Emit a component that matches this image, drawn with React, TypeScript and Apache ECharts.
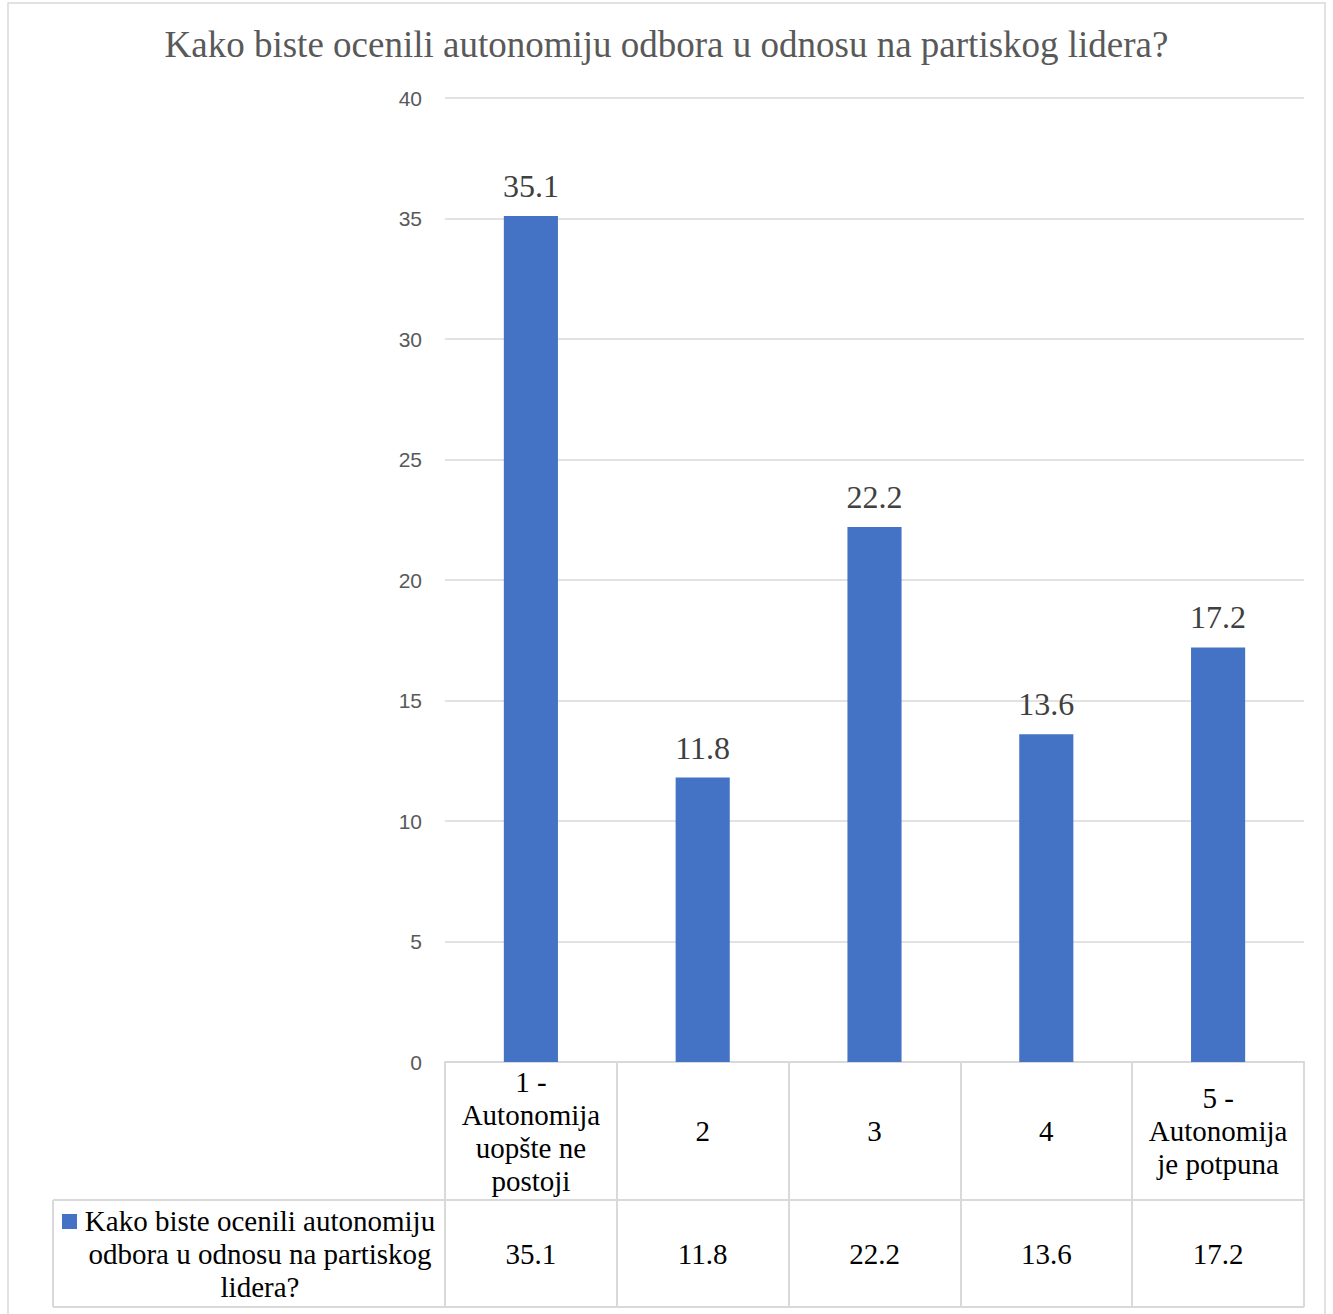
import React, { useEffect, useRef } from "react";
import * as echarts from "echarts";

const TITLE = "Kako biste ocenili autonomiju odbora u odnosu na partiskog lidera?";
const SERIES_NAME = "Kako biste ocenili autonomiju odbora u odnosu na partiskog lidera?";
const LEGEND_LINES = ["Kako biste ocenili autonomiju", "odbora u odnosu na partiskog", "lidera?"];
const categories = ["1 -\nAutonomija\nuopšte ne\npostoji", "2", "3", "4", "5 -\nAutonomija\nje potpuna"];
const values = [35.1, 11.8, 22.2, 13.6, 17.2];
const yTicks = { min: 0, max: 40, interval: 5 };

const W = 1333;
const H = 1314;
const GRID_LEFT = 445;
const GRID_RIGHT = 29;
const GRID_TOP = 98;
const GRID_BOTTOM = 252;
const ROW1 = 138;
const ROW2 = 107;
const LEGEND_LEFT = 53;
const BORDER = "#d9d9d9";
const SERIF = "'Liberation Serif', 'Times New Roman', serif";
const SANS = "'Liberation Sans', Arial, sans-serif";

export default function App() {
  const ref = useRef<HTMLDivElement>(null);
  useEffect(() => {
    if (!ref.current) return;
    const chart = echarts.init(ref.current, null, { renderer: "svg" });
    const axisY = H - GRID_BOTTOM;
    const row2Y = axisY + ROW1;
    const endY = row2Y + ROW2;
    const rightX = W - GRID_RIGHT;
    chart.setOption({
      animation: false,
      backgroundColor: "#ffffff",
      title: {
        text: TITLE,
        left: "center",
        top: 21,
        textStyle: { fontFamily: SERIF, fontSize: 37, fontWeight: "normal", color: "#595959" },
      },
      grid: { left: GRID_LEFT, right: GRID_RIGHT, top: GRID_TOP, bottom: GRID_BOTTOM, containLabel: false },
      xAxis: [
        {
          type: "category",
          data: categories,
          position: "bottom",
          axisLine: { show: true, lineStyle: { color: BORDER, width: 2 } },
          axisTick: { show: true, interval: 0, length: ROW1 + ROW2, lineStyle: { color: BORDER, width: 2 } },
          axisLabel: {
            interval: 0,
            margin: ROW1 / 2,
            verticalAlign: "middle",
            fontFamily: SERIF,
            fontSize: 29,
            lineHeight: 33,
            color: "#000000",
          },
        },
        {
          type: "category",
          data: values.map((v) => v.toFixed(1)),
          position: "bottom",
          offset: 0,
          axisLine: { show: false },
          axisTick: { show: false },
          axisLabel: {
            interval: 0,
            margin: ROW1 + ROW2 / 2,
            verticalAlign: "middle",
            fontFamily: SERIF,
            fontSize: 29,
            color: "#000000",
          },
        },
      ],
      yAxis: {
        type: "value",
        min: yTicks.min,
        max: yTicks.max,
        interval: yTicks.interval,
        axisLine: { show: false },
        axisTick: { show: false },
        splitLine: { show: true, lineStyle: { color: BORDER, width: 1.5 } },
        axisLabel: { margin: 23, fontFamily: SANS, fontSize: 21, color: "#595959" },
      },
      series: [
        {
          name: SERIES_NAME,
          type: "bar",
          xAxisIndex: 0,
          data: values,
          barWidth: "31.5%",
          itemStyle: { color: "#4472C4" },
          label: {
            show: true,
            position: "top",
            distance: 14,
            fontFamily: SERIF,
            fontSize: 32,
            color: "#404040",
            formatter: (p: any) => Number(p.value).toFixed(1),
          },
        },
      ],
      graphic: [
        {
          type: "rect",
          shape: { x: 8, y: 3, width: 1317, height: 1330 },
          style: { fill: "none", stroke: BORDER, lineWidth: 1.5 },
          silent: true,
        },
        {
          type: "line",
          shape: { x1: LEGEND_LEFT, y1: row2Y, x2: rightX, y2: row2Y },
          style: { stroke: BORDER, lineWidth: 2 },
        },
        {
          type: "line",
          shape: { x1: LEGEND_LEFT, y1: endY, x2: rightX, y2: endY },
          style: { stroke: BORDER, lineWidth: 2 },
        },
        {
          type: "line",
          shape: { x1: LEGEND_LEFT, y1: row2Y, x2: LEGEND_LEFT, y2: endY },
          style: { stroke: BORDER, lineWidth: 2 },
        },
        {
          type: "rect",
          shape: { x: 62, y: row2Y + 14, width: 15, height: 15 },
          style: { fill: "#4472C4" },
        },
        {
          type: "text",
          x: 260,
          y: row2Y + ROW2 / 2,
          style: {
            text: LEGEND_LINES.join("\n"),
            fontFamily: SERIF,
            fontSize: 29,
            lineHeight: 33,
            fill: "#000000",
            align: "center",
            verticalAlign: "middle",
          },
        },
      ],
    });
    return () => chart.dispose();
  }, []);
  return (
    <div
      ref={ref}
      style={{ position: "absolute", left: 0, top: 0, width: W, height: H }}
    />
  );
}
